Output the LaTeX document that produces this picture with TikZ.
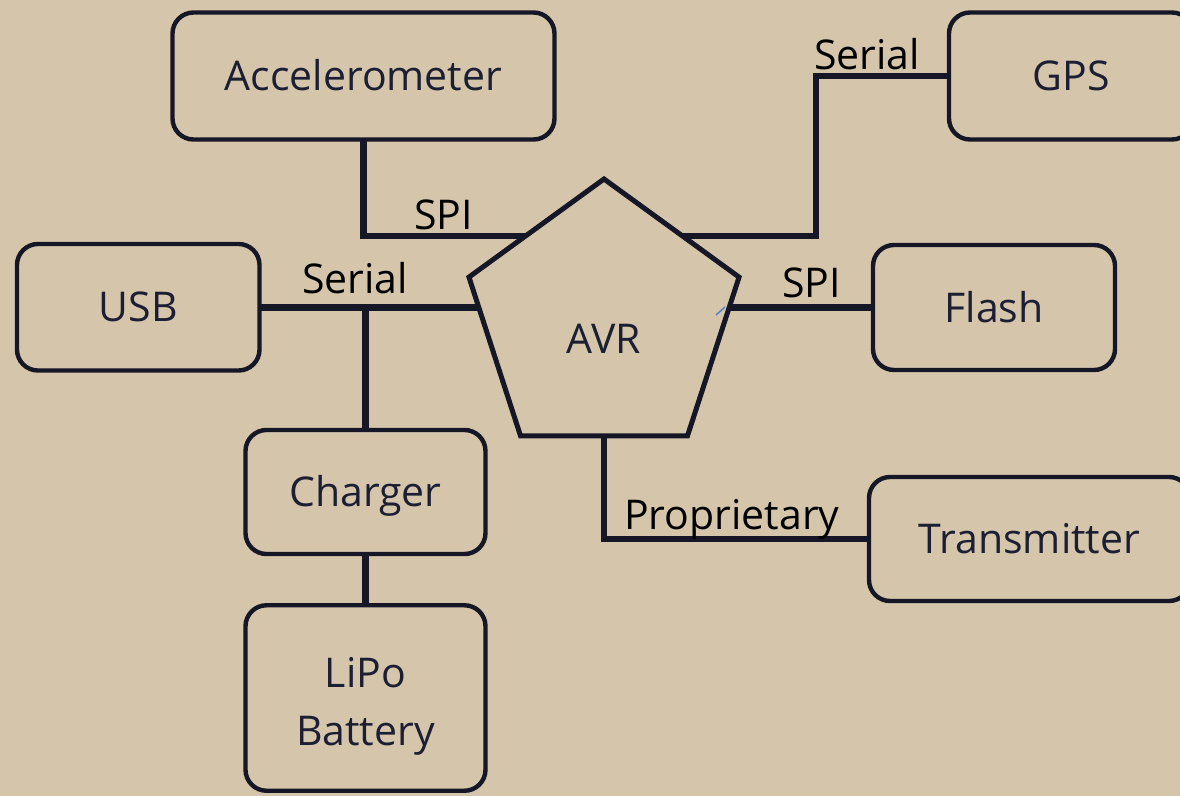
\documentclass[tikz,border=0pt]{standalone}
\usepackage{fontspec}
\setmainfont{Open Sans}
\usetikzlibrary{shapes.geometric,calc}
\definecolor{bg}{HTML}{D5C6AB}
\definecolor{ink}{HTML}{161726}
\definecolor{boxtext}{HTML}{1C1E33}
\definecolor{artblue}{HTML}{4A86C8}
\begin{document}
\begin{tikzpicture}[x=0.75pt,y=-0.75pt,
  blk/.style={draw=ink, line width=3.3pt, rounded corners=15.75pt, inner sep=0pt, outer sep=0pt,
    text=boxtext, font=\fontsize{30.75pt}{43.5pt}\selectfont, align=center},
  blkone/.style={blk, text height=30pt, text depth=8pt},
  wire/.style={draw=ink, line width=4.9pt},
  lbl/.style={anchor=base west, inner sep=0pt, text=black, font=\fontsize{30.75pt}{36pt}\selectfont},
  pent/.style={regular polygon, regular polygon sides=5, minimum size=213pt, draw=ink,
    line width=3.75pt, inner sep=0pt, outer sep=0pt},
]
\useasboundingbox (0,0) rectangle (1180,796);
\clip (0,0) rectangle (1180,796);
\fill[bg] (0,0) rectangle (1180,796);

% boxes
\node[blkone, minimum width=286.5pt, minimum height=95.25pt] (acc) at (363.5,76) {Accelerometer};
\node[blkone, minimum width=183pt, minimum height=95.25pt] (gps) at (1071,76) {GPS};
\node[blkone, minimum width=181.9pt, minimum height=94.9pt] (usb) at (138.25,307.25) {USB};
\node[blkone, minimum width=181.5pt, minimum height=93.75pt] (flash) at (994,307.5) {Flash};
\node[blkone, minimum width=180pt, minimum height=93pt] (chg) at (365.5,492) {Charger};
\node[blk, minimum width=180pt, minimum height=139.1pt] (lipo) at (365.5,698) {\rule{0pt}{34.5pt}LiPo\\Battery};
\node[blkone, minimum width=240.75pt, minimum height=93pt] (tx) at (1029.5,539) {Transmitter};

% AVR pentagon
\node[pent] (avr) at (604,321) {};
\node[anchor=base, inner sep=0pt, text=boxtext, font=\fontsize{30.75pt}{36pt}\selectfont] (avrtext) at (604,353) {AVR};

% connection points on the pentagon
\coordinate (avrA) at ($(avr.corner 1)!0.582!(avr.corner 2)$);
\coordinate (avrB) at ($(avr.corner 1)!0.582!(avr.corner 5)$);
\coordinate (avrW) at ($(avr.corner 2)!0.19!(avr.corner 3)$);
\coordinate (avrE) at ($(avr.corner 5)!0.19!(avr.corner 4)$);
\coordinate (gpsbend) at (816,236);

% wires
\draw[wire] (acc.south) |- (avrA);
\draw[wire] (avrB) -- (avrB -| gpsbend) |- (gps.west);
\draw[wire] (usb.east) -- (usb.east -| avrW);
\draw[wire] (chg.north) -- (usb.east -| chg.north);
\draw[wire] (chg.south) -- (lipo.north);
\draw[wire] (flash.west) -- (flash.west -| avrE);
\draw[wire] (avr.south) |- (tx.west);

% stray mark
\draw[artblue, line width=1.1pt] (716,315) -- (725,307);

% labels
\node[lbl] (l1) at (414,229) {SPI};
\node[lbl] (l2) at (814,69) {Serial};
\node[lbl] (l3) at (302,293) {Serial};
\node[lbl] (l4) at (782,297) {SPI};
\node[lbl] (l5) at (624,529) {Proprietary};
\end{tikzpicture}
\end{document}
